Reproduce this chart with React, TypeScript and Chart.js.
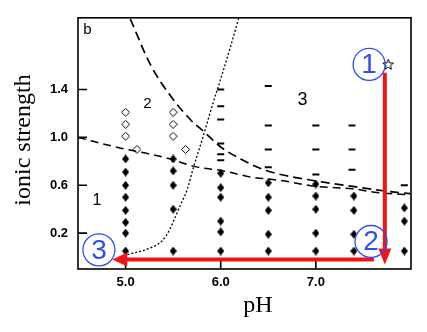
import React, { useEffect, useRef } from 'react';
import { Chart, registerables } from 'chart.js';

Chart.register(...registerables);

// ---- axis ticks ----
const X_TICKS = [5.0, 6.0, 7.0];
const Y_TICKS = [0.2, 0.6, 1.0, 1.4];

// ---- filled diamonds ----
const filledPH = [
  5.0, 5.0, 5.0, 5.0, 5.0, 5.0, 5.0, 5.0,
  5.5, 5.5, 5.5, 5.5, 5.5,
  6.0, 6.0, 6.0, 6.0, 6.0, 6.0,
  6.5, 6.5, 6.5, 6.5, 6.5,
  7.0, 7.0, 7.0, 7.0, 7.0,
  7.4, 7.4, 7.4, 7.4,
  7.93, 7.93, 7.93,
];
const filledI = [
  0.82, 0.71, 0.6, 0.5, 0.39, 0.29, 0.2, 0.05,
  0.82, 0.72, 0.6, 0.4, 0.05,
  0.7, 0.58, 0.5, 0.3, 0.21, 0.05,
  0.62, 0.5, 0.39, 0.19, 0.05,
  0.61, 0.51, 0.4, 0.2, 0.05,
  0.51, 0.39, 0.19, 0.05,
  0.41, 0.3, 0.05,
];

// ---- open diamonds ----
const openPH = [5.0, 5.0, 5.0, 5.12, 5.5, 5.5, 5.5, 5.63];
const openI = [1.21, 1.11, 1.01, 0.9, 1.21, 1.11, 1.01, 0.9];

// ---- dash markers ----
const dashPH = [
  6.0, 6.0, 6.0, 6.0, 6.0, 6.0,
  6.5, 6.5, 6.5, 6.5,
  7.0, 7.0, 7.0,
  7.38, 7.38, 7.38,
  7.93,
];
const dashI = [
  1.4, 1.26, 1.15, 0.95, 0.86, 0.81,
  1.43, 1.1, 0.9, 0.75,
  1.1, 0.9, 0.69,
  1.1, 0.9, 0.73,
  0.6,
];

// ---- star ----
const starPH = [7.76];
const starI = [1.61];

// ---- boundary curves ----
const upperPH = [5.05, 5.26, 5.47, 5.68, 5.82, 6.0, 6.21, 6.42, 6.63, 6.97, 7.39, 7.75, 7.99];
const upperI = [1.99, 1.61, 1.35, 1.15, 1.05, 0.92, 0.82, 0.74, 0.69, 0.64, 0.59, 0.55, 0.53];

const lowerPH = [4.5, 4.95, 5.26, 5.47, 5.71, 6.03, 6.31, 6.63, 7.01, 7.39, 7.64, 8.0];
const lowerI = [1.0, 0.91, 0.86, 0.82, 0.76, 0.72, 0.67, 0.64, 0.59, 0.57, 0.54, 0.52];

const dottedPH = [5.02, 5.24, 5.39, 5.47, 5.52, 5.58, 5.65, 5.71, 5.82, 5.92, 6.0, 6.1, 6.19];
const dottedI = [0.02, 0.07, 0.14, 0.24, 0.33, 0.44, 0.57, 0.74, 1.02, 1.29, 1.49, 1.75, 2.0];

// ---- region labels ----
const regionLabels = ['b', '1', '2', '3'];
const regionPH = [4.6, 4.7, 5.23, 6.86];
const regionI = [1.9, 0.47, 1.28, 1.31];
const regionSize = [15, 16, 15, 18];

// ---- annotations: circled steps & arrows ----
const stepLabels = ['1', '2', '3'];
const stepPH = [7.56, 7.58, 4.72];
const stepI = [1.61, 0.13, 0.06];

const arrowDownPH = 7.725;
const arrowDownFromI = 1.54;
const arrowDownToI = -0.062;
const arrowLeftI = -0.02;
const arrowLeftFromPH = 7.61;
const arrowLeftToPH = 4.86;

const pts = (xs: number[], ys: number[]) => xs.map((x, i) => ({ x, y: ys[i] }));

function makeCanvas(w: number, h: number, draw: (c: CanvasRenderingContext2D) => void) {
  const cv = document.createElement('canvas');
  cv.width = w;
  cv.height = h;
  const c = cv.getContext('2d')!;
  draw(c);
  return cv;
}

export default function App() {
  const ref = useRef<HTMLCanvasElement>(null);

  useEffect(() => {
    const filledDiamond = makeCanvas(7, 9, (c) => {
      c.fillStyle = '#000';
      c.beginPath();
      c.moveTo(3.5, 0);
      c.lineTo(7, 4.5);
      c.lineTo(3.5, 9);
      c.lineTo(0, 4.5);
      c.closePath();
      c.fill();
    });
    const openDiamond = makeCanvas(9, 9, (c) => {
      c.strokeStyle = '#000';
      c.lineWidth = 1;
      c.beginPath();
      c.moveTo(4.5, 0.5);
      c.lineTo(8.5, 4.5);
      c.lineTo(4.5, 8.5);
      c.lineTo(0.5, 4.5);
      c.closePath();
      c.stroke();
    });
    const star = makeCanvas(13, 13, (c) => {
      c.strokeStyle = '#000';
      c.lineWidth = 1;
      c.beginPath();
      for (let k = 0; k < 10; k++) {
        const r = k % 2 === 0 ? 5.6 : 2.3;
        const a = -Math.PI / 2 + (k * Math.PI) / 5;
        const px = 6.5 + r * Math.cos(a);
        const py = 6.8 + r * Math.sin(a);
        if (k === 0) c.moveTo(px, py);
        else c.lineTo(px, py);
      }
      c.closePath();
      c.stroke();
    });

    const overlay = {
      id: 'overlay',
      afterDatasetsDraw(chart: any) {
        const { ctx, chartArea: a } = chart;
        const xs = chart.scales.x;
        const ys = chart.scales.y;
        const X = (v: number) => xs.getPixelForValue(v);
        const Y = (v: number) => ys.getPixelForValue(v);
        ctx.save();

        // frame
        ctx.strokeStyle = '#000';
        ctx.lineWidth = 1.6;
        ctx.strokeRect(a.left, a.top, a.right - a.left, a.bottom - a.top);
        // inward ticks
        ctx.beginPath();
        X_TICKS.forEach((v) => {
          const px = X(v);
          ctx.moveTo(px, a.bottom);
          ctx.lineTo(px, a.bottom - 9);
        });
        Y_TICKS.forEach((v) => {
          const py = Y(v);
          ctx.moveTo(a.left, py);
          ctx.lineTo(a.left + 9, py);
        });
        ctx.stroke();

        // region labels
        ctx.fillStyle = '#000';
        ctx.textAlign = 'center';
        ctx.textBaseline = 'middle';
        regionLabels.forEach((t, i) => {
          ctx.font = `${regionSize[i]}px "Liberation Sans", Arial, sans-serif`;
          ctx.fillText(t, X(regionPH[i]), Y(regionI[i]));
        });

        // red arrows
        const red = '#f01414';
        ctx.strokeStyle = red;
        ctx.fillStyle = red;
        ctx.lineWidth = 4;
        ctx.lineCap = 'butt';
        const ax = X(arrowDownPH);
        const ay0 = Y(arrowDownFromI);
        const ay1 = Y(arrowDownToI);
        ctx.beginPath();
        ctx.moveTo(ax, ay0);
        ctx.lineTo(ax, ay1 - 12);
        ctx.stroke();
        ctx.beginPath();
        ctx.moveTo(ax, ay1);
        ctx.lineTo(ax - 6.5, ay1 - 16);
        ctx.lineTo(ax + 6.5, ay1 - 16);
        ctx.closePath();
        ctx.fill();

        const hy = Y(arrowLeftI);
        const hx0 = X(arrowLeftFromPH);
        const hx1 = X(arrowLeftToPH);
        ctx.beginPath();
        ctx.moveTo(hx0, hy);
        ctx.lineTo(hx1 + 12, hy);
        ctx.stroke();
        ctx.beginPath();
        ctx.moveTo(hx1, hy);
        ctx.lineTo(hx1 + 15, hy - 7);
        ctx.lineTo(hx1 + 15, hy + 7);
        ctx.closePath();
        ctx.fill();

        // circled step numbers
        const blue = '#2c4ff0';
        ctx.strokeStyle = blue;
        ctx.fillStyle = blue;
        ctx.lineWidth = 1.3;
        ctx.font = '28px "Liberation Sans", Arial, sans-serif';
        ctx.textAlign = 'center';
        ctx.textBaseline = 'middle';
        stepLabels.forEach((t, i) => {
          const cx = X(stepPH[i]);
          const cy = Y(stepI[i]);
          ctx.beginPath();
          ctx.arc(cx, cy, 16, 0, Math.PI * 2);
          ctx.stroke();
          ctx.fillText(t, cx, cy + 1);
        });

        // axis titles
        ctx.fillStyle = '#000';
        ctx.font = '24px "Liberation Serif", "Times New Roman", serif';
        ctx.textAlign = 'center';
        ctx.textBaseline = 'middle';
        ctx.fillText('pH', 258, 306);
        ctx.save();
        ctx.translate(24, 140);
        ctx.rotate(-Math.PI / 2);
        ctx.fillText('ionic strength', 0, 0);
        ctx.restore();

        ctx.restore();
      },
    };

    const tickFont = { family: 'Arial, "Liberation Sans", sans-serif', size: 13, weight: 'bold' as const };

    const chart = new Chart(ref.current!, {
      type: 'scatter',
      data: {
        datasets: [
          {
            label: 'upper',
            data: pts(upperPH, upperI),
            showLine: true,
            borderColor: '#000',
            borderWidth: 1.7,
            borderDash: [9, 5],
            pointRadius: 0,
            cubicInterpolationMode: 'monotone',
          },
          {
            label: 'lower',
            data: pts(lowerPH, lowerI),
            showLine: true,
            borderColor: '#000',
            borderWidth: 1.5,
            borderDash: [8, 5],
            pointRadius: 0,
            cubicInterpolationMode: 'monotone',
          },
          {
            label: 'dotted',
            data: pts(dottedPH, dottedI),
            showLine: true,
            borderColor: '#000',
            borderWidth: 1.3,
            borderDash: [2, 2],
            pointRadius: 0,
            cubicInterpolationMode: 'monotone',
          },
          {
            label: 'filled',
            data: pts(filledPH, filledI),
            pointStyle: filledDiamond as any,
            pointRadius: 4,
          },
          {
            label: 'open',
            data: pts(openPH, openI),
            pointStyle: openDiamond as any,
            pointRadius: 4,
          },
          {
            label: 'dash',
            data: pts(dashPH, dashI),
            pointStyle: 'line',
            pointRadius: 3.5,
            borderColor: '#000',
            borderWidth: 2,
          },
          {
            label: 'star',
            data: pts(starPH, starI),
            pointStyle: star as any,
            pointRadius: 6,
          },
        ],
      },
      options: {
        responsive: false,
        animation: false,
        events: [],
        layout: { padding: { top: 15, right: 16, left: 0, bottom: 0 } },
        plugins: {
          legend: { display: false },
          tooltip: { enabled: false },
        },
        scales: {
          x: {
            type: 'linear',
            min: 4.5,
            max: 8.0,
            afterFit: (s: any) => {
              s.height = 63;
            },
            afterBuildTicks: (s: any) => {
              s.ticks = X_TICKS.map((v) => ({ value: v }));
            },
            grid: { display: false, drawTicks: false },
            border: { display: false },
            ticks: {
              padding: 6,
              color: '#000',
              font: tickFont,
              callback: (v: any) => Number(v).toFixed(1),
            },
          },
          y: {
            type: 'linear',
            min: -0.1,
            max: 2.0,
            afterFit: (s: any) => {
              s.width = 78;
            },
            afterBuildTicks: (s: any) => {
              s.ticks = Y_TICKS.map((v) => ({ value: v }));
            },
            grid: { display: false, drawTicks: false },
            border: { display: false },
            ticks: {
              padding: 10,
              color: '#000',
              font: tickFont,
              callback: (v: any) => Number(v).toFixed(1),
            },
          },
        },
      },
      plugins: [overlay],
    });

    return () => chart.destroy();
  }, []);

  return (
    <div style={{ position: 'absolute', left: 0, top: 0, width: 427, height: 332, background: '#fff' }}>
      <canvas ref={ref} width={427} height={332} style={{ width: 427, height: 332 }} />
    </div>
  );
}
